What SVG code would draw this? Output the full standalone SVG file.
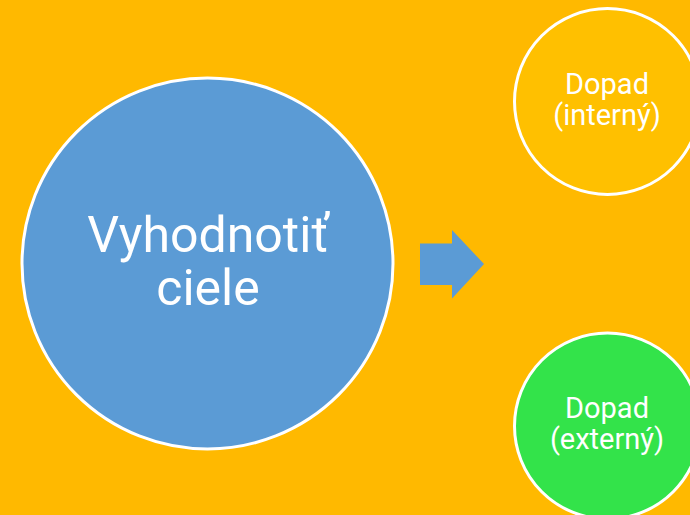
<svg xmlns="http://www.w3.org/2000/svg" width="690" height="515" viewBox="0 0 690 515">
<style>
.node{stroke:#FFFFFF;stroke-width:3}
.lbl{font-family:Roboto,"Liberation Sans",sans-serif;fill:#FFFFFF;text-anchor:middle}
</style>
<rect x="0" y="0" width="690" height="515" fill="#FFB900"/>
<g id="node-vyhodnotit">
<circle class="node" cx="207.5" cy="263.5" r="185.5" fill="#5B9BD5"/>
<text class="lbl" x="208" y="251.5" font-size="50">Vyhodnotiť</text>
<text class="lbl" x="208" y="305" font-size="50">ciele</text>
</g>
<g id="connectors">
<polygon points="420,243.5 452,243.5 452,230 484,264 452,298.5 452,285 420,285" fill="#5B9BD5"/>
</g>
<g id="node-interny">
<circle class="node" cx="607.5" cy="101.5" r="93" fill="#FFC000"/>
<text class="lbl" x="607" y="94" font-size="29">Dopad</text>
<text class="lbl" x="607" y="124.5" font-size="29">(interný)</text>
</g>
<g id="node-externy">
<circle class="node" cx="607.5" cy="426" r="93" fill="#33E34A"/>
<text class="lbl" x="607" y="418" font-size="29">Dopad</text>
<text class="lbl" x="607" y="448.5" font-size="29">(externý)</text>
</g>
</svg>
